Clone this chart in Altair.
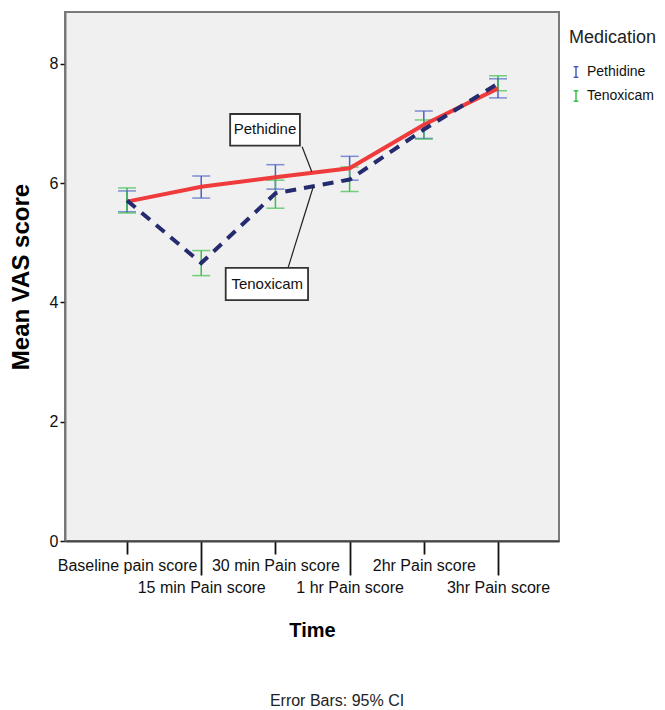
import json
import altair as alt
import pandas as pd

categories = ["Baseline pain score", "15 min Pain score", "30 min Pain score",
              "1 hr Pain score", "2hr Pain score", "3hr Pain score"]
series = ["Pethidine", "Tenoxicam"]
pethidine_mean = [5.69, 5.94, 6.10, 6.25, 6.98, 7.59]
pethidine_lo = [5.52, 5.75, 5.90, 6.05, 6.75, 7.43]
pethidine_hi = [5.87, 6.12, 6.31, 6.45, 7.21, 7.75]
tenoxicam_mean = [5.71, 4.66, 5.83, 6.06, 6.90, 7.67]
tenoxicam_lo = [5.50, 4.45, 5.58, 5.86, 6.74, 7.55]
tenoxicam_hi = [5.92, 4.87, 6.05, 6.27, 7.06, 7.80]
y_ticks = [0, 2, 4, 6, 8]

# annotation callouts (data coordinates)
note_text = ["Pethidine", "Tenoxicam"]
note_x = [1.86, 1.89]
note_y = [6.90, 4.31]
box_x0 = [1.39, 1.33]
box_x1 = [2.33, 2.44]
box_y0 = [6.63, 4.04]
box_y1 = [7.16, 4.58]
lead_x0 = [2.36, 2.17]
lead_y0 = [6.61, 4.58]
lead_x1 = [2.49, 2.51]
lead_y1 = [6.19, 5.94]

rows = []
for s, m, lo, hi in [("Pethidine", pethidine_mean, pethidine_lo, pethidine_hi),
                     ("Tenoxicam", tenoxicam_mean, tenoxicam_lo, tenoxicam_hi)]:
    for i in range(len(categories)):
        rows.append({"idx": i, "series": s, "mean": m[i], "lo": lo[i], "hi": hi[i]})
df = pd.DataFrame(rows)
notes = pd.DataFrame({"text": note_text, "x": note_x, "y": note_y,
                      "bx0": box_x0, "bx1": box_x1, "by0": box_y0, "by1": box_y1,
                      "lx0": lead_x0, "ly0": lead_y0, "lx1": lead_x1, "ly1": lead_y1})

FONT = "Liberation Sans"
label_expr = json.dumps(categories) + "[datum.value]"

xscale = alt.Scale(domain=[-0.836, 5.822], nice=False, zero=False)
yscale = alt.Scale(domain=[0, 8.87], nice=False)

xaxis = alt.Axis(values=list(range(len(categories))), labelExpr=label_expr,
                 title="Time", titleFontSize=20, titleFontWeight="bold", titleColor="black",
                 titleFont=FONT, titlePadding=25,
                 labelFont=FONT, labelFontSize=16, labelColor="#111",
                 labelOverlap=False, labelBound=False, labelFlush=False,
                 tickSize={"condition": {"test": "datum.value % 2 === 1", "value": 34}, "value": 13},
                 labelPadding={"condition": {"test": "datum.value % 2 === 1", "value": 4}, "value": 3},
                 tickColor="#111", tickWidth=1.8, domainColor="#444", domainWidth=2, grid=False)
yaxis = alt.Axis(values=y_ticks, format="d", title="Mean VAS score", titleFontSize=24,
                 titleFontWeight="bold", titleColor="black", titleFont=FONT, titlePadding=16,
                 labelFont=FONT, labelFontSize=16, labelColor="#111", labelPadding=2,
                 tickSize=5, tickColor="#111", tickWidth=1.5, domainColor="#777", domainWidth=2, grid=False)

base = alt.Chart(df)
X = alt.X("idx:Q", scale=xscale, axis=xaxis)
Y = alt.Y("lo:Q", scale=yscale, axis=yaxis)

color = alt.Color("series:N", scale=alt.Scale(domain=series, range=["#4b62c4", "#3dbd4c"]),
                  legend=alt.Legend(title="Medication", orient="none", legendX=504, legendY=17,
                                    titleFont=FONT, titleFontSize=18, titleFontWeight="normal",
                                    titleColor="#222", titlePadding=18,
                                    labelFont=FONT, labelFontSize=14, labelColor="#111",
                                    symbolType="M-0.45,-1H0.45M0,-1V1M-0.45,1H0.45",
                                    symbolSize=110, symbolStrokeWidth=1.5, rowPadding=6,
                                    labelOffset=4))

whisk = base.mark_rule(strokeWidth=1.5).encode(x=X, y=Y, y2="hi:Q", color=color)
cap_lo = base.mark_tick(orient="horizontal", size=18, thickness=1.5).encode(
    x="idx:Q", y="lo:Q", color=alt.Color("series:N", legend=None))
cap_hi = base.mark_tick(orient="horizontal", size=18, thickness=1.5).encode(
    x="idx:Q", y="hi:Q", color=alt.Color("series:N", legend=None))

line_p = base.transform_filter(alt.datum.series == "Pethidine").mark_line(
    color="#ef3b3b", strokeWidth=4).encode(x="idx:Q", y="mean:Q")
line_t = base.transform_filter(alt.datum.series == "Tenoxicam").mark_line(
    color="#252b6f", strokeWidth=4, strokeDash=[11, 8]).encode(x="idx:Q", y="mean:Q")

nb = alt.Chart(notes)
leads = nb.mark_rule(color="#222", strokeWidth=1.2).encode(x="lx0:Q", x2="lx1:Q", y="ly0:Q", y2="ly1:Q")
boxes = nb.mark_rect(fill="white", stroke="#333", strokeWidth=1.8).encode(
    x="bx0:Q", x2="bx1:Q", y="by0:Q", y2="by1:Q")
texts = nb.mark_text(font=FONT, fontSize=15, color="#111").encode(x="x:Q", y="y:Q", text="text:N")

chart = alt.layer(whisk, cap_lo, cap_hi, line_p, line_t, leads, boxes, texts).properties(
    width=494, height=529,
    autosize=alt.AutoSizeParams(type="none"),
    padding={"left": 57, "top": 4, "right": 98, "bottom": 169},
    title=alt.TitleParams("Error Bars: 95% CI", orient="bottom", anchor="middle", dx=25,
                          offset=53, font=FONT, fontSize=16, fontWeight="normal", color="#222"),
).configure_view(fill="#f0f0f0", stroke="#7a7a7a", strokeWidth=2)

chart.save("out.html", embed_options={"renderer": "svg", "actions": False})
